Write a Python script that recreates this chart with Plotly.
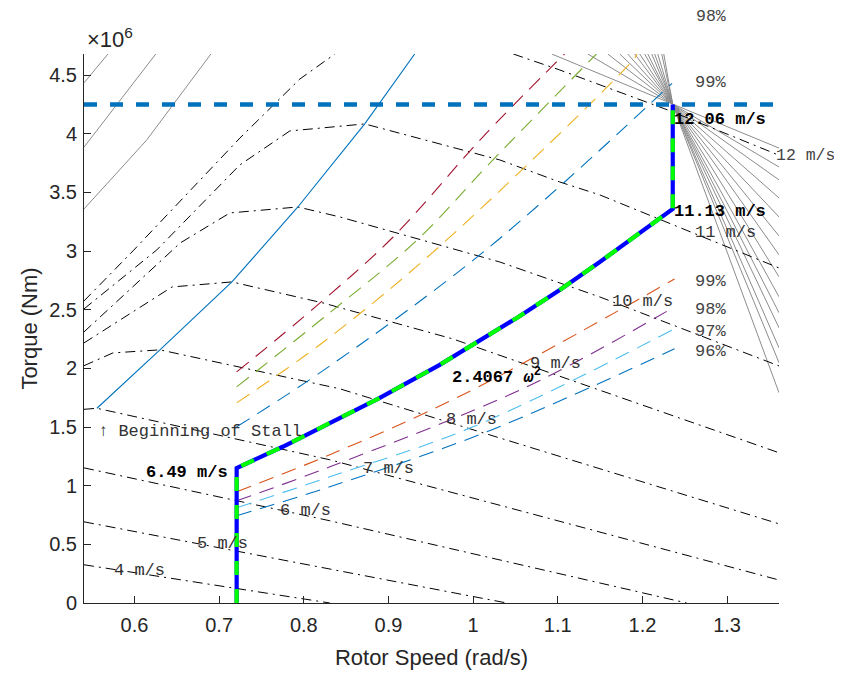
import plotly.graph_objects as go

# ---------------- data (rotor speed in rad/s, torque in 1e6 Nm) ----------------
x_range = [0.5404, 1.3613]
y_range = [0.0, 4.68]
x_ticks = [0.6, 0.7, 0.8, 0.9, 1.0, 1.1, 1.2, 1.3]
y_ticks = [0, 0.5, 1, 1.5, 2, 2.5, 3, 3.5, 4, 4.5]
y_tick_text = ["0", "0.5", "1", "1.5", "2", "2.5", "3", "3.5", "4", "4.5"]

# wind-speed torque curves (dash-dot)
ws4_w = [0.5404, 0.8308]
ws4_t = [0.326, 0.0]
ws5_w = [0.5404, 0.8308, 1.0398]
ws5_t = [0.692, 0.292, 0.0]
ws6_w = [0.5404, 0.8308, 1.2523]
ws6_t = [1.152, 0.701, 0.0]
ws7_w = [0.5404, 0.5557, 0.8308, 1.3613]
ws7_t = [1.651, 1.660, 1.221, 0.196]
ws8_w = [0.5404, 0.5746, 0.6301, 0.8426, 1.3613]
ws8_t = [2.023, 2.132, 2.158, 1.826, 0.675]
ws9_w = [0.5404, 0.6443, 0.7151, 0.8226, 0.9761, 1.1142, 1.3613]
ws9_t = [2.217, 2.694, 2.737, 2.558, 2.251, 1.902, 1.281]
ws10_w = [0.5404, 0.6540, 0.7127, 0.7930, 0.8426, 1.0315, 1.1496, 1.3613]
ws10_t = [2.311, 3.069, 3.325, 3.376, 3.291, 2.907, 2.609, 2.021]
ws11_w = [0.5404, 0.6264, 0.7244, 0.7835, 0.8720, 1.0315, 1.1023, 1.1496, 1.3613]
ws11_t = [2.507, 3.010, 3.734, 4.024, 4.084, 3.777, 3.589, 3.479, 2.856]
ws12_w = [0.5404, 0.5982, 0.7246, 0.7954, 0.8367, None, 1.0475, 1.1023, 1.2321, 1.3613]
ws12_t = [2.575, 3.001, 3.964, 4.467, 4.68, None, 4.68, 4.544, 4.197, 3.817]

# stall boundary (peaks of the torque curves)
stall_w = [0.5557, 0.6301, 0.7151, 0.7930, 0.8720, 0.9310]
stall_t = [1.660, 2.158, 2.737, 3.376, 4.084, 4.68]

# upper family of dashed efficiency curves
red_w = [0.7207, 0.8192, 0.9055, 1.0114, 1.1080]
red_t = [1.970, 2.558, 3.120, 3.972, 4.68]
green_w = [0.7207, 0.8274, 0.9337, 1.0198, 1.1457]
green_t = [1.842, 2.456, 3.093, 3.750, 4.68]
yellow_w = [0.7207, 0.8229, 0.9645, 1.1909, 1.1935]
yellow_t = [1.706, 2.223, 3.067, 4.646, 4.68]
blue_hi_w = [0.7207, 0.8274, 1.0177, 1.2350]
blue_hi_t = [1.502, 2.004, 3.025, 4.430]

# lower family of dashed efficiency curves (99 %, 98 %, 97 %, 96 %)
orange_w = [0.7207, 0.8308, 0.9878, 1.2379]
orange_t = [0.948, 1.264, 1.775, 2.762]
purple_w = [0.7207, 0.8308, 1.0634, 1.2356]
purple_t = [0.871, 1.161, 1.843, 2.515]
lblue_w = [0.7207, 0.8308, 1.0000, 1.2379]
lblue_t = [0.812, 1.076, 1.502, 2.337]
blue_lo_w = [0.7207, 0.8308, 1.0160, 1.2379]
blue_lo_t = [0.744, 0.991, 1.459, 2.167]

# operating trajectory
op_w = [0.7207, 0.7207, 0.7757, 0.8544, 0.8898, 0.9600, 1.0516, 1.1023, 1.1496, 1.2358, 1.2358]
op_t = [0.0, 1.150, 1.334, 1.621, 1.749, 2.028, 2.430, 2.669, 2.907, 3.359, 4.25]

rated_torque = 4.25

# fan of grey lines through the rated point
fan_focus_w = 1.2358
fan_focus_t = 4.25
fan_top_w = [1.0929, 1.1354, 1.1590, 1.1732, 1.1826, 1.1909, 1.1968,
             1.2027, 1.2063, 1.2110, 1.2145, 1.2181, 1.2228, 1.2252]
fan_right_t = [3.878, 3.717, 3.607, 3.453, 3.291, 3.129, 2.968,
               2.780, 2.610, 2.474, 2.346, 2.175, 2.048, 1.792]

# grey lines at the top-left corner
gA_w = [0.5404, 0.5687]
gA_t = [4.434, 4.68]
gB_w = [0.5404, 0.6252]
gB_t = [3.886, 4.68]
gC_w = [0.5404, 0.6144, 0.6903]
gC_t = [3.359, 3.946, 4.68]

# text labels
ws_labels = ["4 m/s", "5 m/s", "6 m/s", "7 m/s", "8 m/s", "9 m/s", "10 m/s", "11 m/s"]
ws_label_w = [0.6065, 0.7045, 0.8025, 0.9005, 0.9985, 1.0977, 1.2004, 1.2984]
ws_label_t = [0.275, 0.508, 0.786, 1.144, 1.562, 2.039, 2.567, 3.155]
pct_labels = ["99%", "98%", "97%", "96%", "99%"]
pct_label_t = [2.738, 2.499, 2.312, 2.141, 4.441]
bold_labels = ["12.06 m/s", "11.13 m/s", "6.49 m/s"]
bold_label_w = [1.2913, 1.2913, 0.6620]
bold_label_t = [4.124, 3.341, 1.110]
# labels that sit outside the axes (paper fractions)
out_labels = ["12 m/s", "98%"]
out_label_px = [1.0385, 0.9018]
out_label_py = [0.8143, 1.0674]

# ---------------- figure ----------------
fig = go.Figure()

DD = "10px,5px,2px,5px"
MONO = "Liberation Mono, Courier New, monospace"
SANS = "Liberation Sans, Arial, Helvetica, sans-serif"
FS = 17


def line(w, t, color, width=1.0, dash="solid", shape="linear"):
    fig.add_trace(go.Scatter(x=w, y=t, mode="lines", hoverinfo="skip",
                             line=dict(color=color, width=width, dash=dash, shape=shape),
                             connectgaps=False))


# grey lines
GREY = "#8c8c8c"
for w, t in [(gA_w, gA_t), (gB_w, gB_t), (gC_w, gC_t)]:
    line(w, t, GREY, 1.0)
for tw, rt in zip(fan_top_w, fan_right_t):
    line([tw, fan_focus_w, x_range[1]], [y_range[1], fan_focus_t, rt], GREY, 1.0)

# wind speed curves
for w, t in [(ws4_w, ws4_t), (ws5_w, ws5_t), (ws6_w, ws6_t), (ws7_w, ws7_t),
             (ws8_w, ws8_t), (ws9_w, ws9_t), (ws10_w, ws10_t), (ws11_w, ws11_t),
             (ws12_w, ws12_t)]:
    line(w, t, "#000000", 1.0, DD)

# stall boundary
line(stall_w, stall_t, "#0072BD", 1.1)

# efficiency curves
CD = "15px,9px"
line(red_w, red_t, "#A2142F", 1.1, CD, "spline")
line(green_w, green_t, "#77AC30", 1.1, CD, "spline")
line(yellow_w, yellow_t, "#EDB120", 1.1, CD, "spline")
line(blue_hi_w, blue_hi_t, "#0072BD", 1.1, CD, "spline")
line(orange_w, orange_t, "#D95319", 1.1, CD, "spline")
line(purple_w, purple_t, "#7E2F8E", 1.1, CD, "spline")
line(lblue_w, lblue_t, "#4DBEEE", 1.1, CD, "spline")
line(blue_lo_w, blue_lo_t, "#0072BD", 1.1, CD, "spline")

# rated torque line
line(list(x_range), [rated_torque, rated_torque], "#0072BD", 4.5, "13px,13px")

# operating trajectory
line(op_w, op_t, "#0000FF", 4.2)
line(op_w, op_t, "#00FF00", 4.2, "14px,14px")

# annotations
ann = []
for txt, w, t in zip(ws_labels, ws_label_w, ws_label_t):
    ann.append(dict(x=w, y=t, text=txt, showarrow=False,
                    font=dict(family=MONO, size=FS, color="#333333")))
for txt, t in zip(pct_labels, pct_label_t):
    ann.append(dict(x=1.2804, y=t, text=txt, showarrow=False,
                    font=dict(family=MONO, size=FS, color="#444444")))
for txt, px, py in zip(out_labels, out_label_px, out_label_py):
    ann.append(dict(xref="paper", yref="paper", x=px, y=py, xanchor="center", yanchor="middle",
                    text=txt, showarrow=False,
                    font=dict(family=MONO, size=16.5, color="#444444")))
for txt, w, t in zip(bold_labels, bold_label_w, bold_label_t):
    ann.append(dict(x=w, y=t, text="<b>" + txt + "</b>", showarrow=False,
                    font=dict(family=MONO, size=FS, color="#000000")))
ann.append(dict(x=1.0280, y=1.937, text="<b>2.4067 <i>ω</i><sup>2</sup></b>", showarrow=False,
                font=dict(family=MONO, size=FS, color="#000000")))
ann.append(dict(x=0.6773, y=1.460, text="↑ Beginning of Stall", showarrow=False,
                font=dict(family=MONO, size=FS, color="#333333")))
ann.append(dict(xref="paper", yref="paper", x=0, y=1.029, xanchor="left", yanchor="middle",
                xshift=1, text="×10<sup>6</sup>", showarrow=False,
                font=dict(family=SANS, size=22, color="#262626")))

# the page body adds an 8 px margin, so the figure is 8 px smaller on each side
fig.update_layout(
    width=834, height=669,
    margin=dict(l=76, r=63, t=46, b=74, autoexpand=False),
    paper_bgcolor="white", plot_bgcolor="white",
    showlegend=False,
    annotations=ann,
    xaxis=dict(range=x_range, tickvals=x_ticks, ticks="inside", ticklen=7, tickwidth=1,
               tickcolor="#262626", showline=True, linecolor="#262626", linewidth=1,
               showgrid=False, zeroline=False, mirror=False, ticklabelstandoff=4,
               tickfont=dict(family=SANS, size=20, color="#262626"),
               title=dict(text="Rotor Speed (rad/s)", font=dict(family=SANS, size=22, color="#262626"),
                          standoff=14),
               automargin=False),
    yaxis=dict(range=y_range, tickvals=y_ticks, ticktext=y_tick_text, ticks="inside", ticklen=7,
               tickwidth=1, tickcolor="#262626", showline=True, linecolor="#262626", linewidth=1,
               showgrid=False, zeroline=False, mirror=False, ticklabelstandoff=2,
               tickfont=dict(family=SANS, size=20, color="#262626"),
               title=dict(text="Torque (Nm)", font=dict(family=SANS, size=22, color="#262626"),
                          standoff=5),
               automargin=False),
)

fig.write_html("out.html")
